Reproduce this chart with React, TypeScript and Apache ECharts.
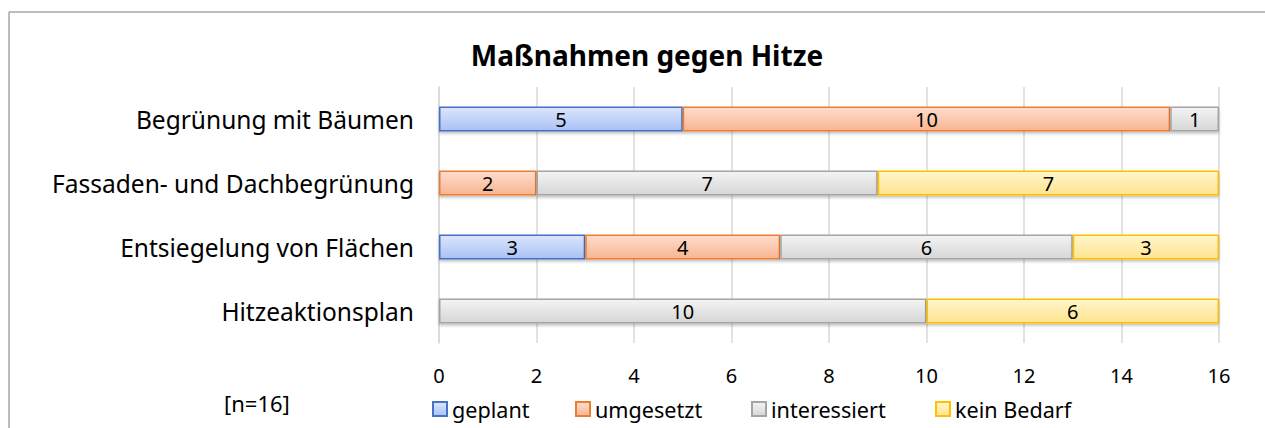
import React, { useEffect, useRef } from "react";
import * as echarts from "echarts";

const categories = [
  "Begrünung mit Bäumen",
  "Fassaden- und Dachbegrünung",
  "Entsiegelung von Flächen",
  "Hitzeaktionsplan",
];
const geplant = [5, null, 3, null];
const umgesetzt = [10, 2, 4, null];
const interessiert = [1, 7, 6, 10];
const keinBedarf = [null, 7, 3, 6];
const seriesNames = ["geplant", "umgesetzt", "interessiert", "kein Bedarf"];
const xTicks = { min: 0, max: 16, interval: 2 };
const titleText = "Maßnahmen gegen Hitze";
const noteText = "[n=16]";

const FONT = "'Noto Sans', sans-serif";

const palettes = [
  { top: "#DCE6FC", bottom: "#A9C1F4", border: "#4472C4" },
  { top: "#FEDDCD", bottom: "#F8B592", border: "#ED7D31" },
  { top: "#F4F4F4", bottom: "#D6D6D6", border: "#A5A5A5" },
  { top: "#FFF6CC", bottom: "#FFE48F", border: "#FFC000" },
];

const legendLefts = [432, 575, 751, 935];

export default function App() {
  const ref = useRef<HTMLDivElement>(null);
  useEffect(() => {
    if (!ref.current) return;
    const chart = echarts.init(ref.current, undefined, { renderer: "svg" });
    const datas = [geplant, umgesetzt, interessiert, keinBedarf];
    const series = datas.map((d, i) => ({
      name: seriesNames[i],
      type: "bar",
      stack: "total",
      barWidth: 25,
      data: d,
      itemStyle: {
        color: new echarts.graphic.LinearGradient(0, 0, 0, 1, [
          { offset: 0, color: palettes[i].top },
          { offset: 1, color: palettes[i].bottom },
        ]),
        borderColor: palettes[i].border,
        borderWidth: 1.5,
        shadowColor: "rgba(0,0,0,0.25)",
        shadowBlur: 3,
        shadowOffsetY: 2,
      },
      label: {
        show: true,
        position: "inside",
        color: "#000",
        fontFamily: FONT,
        fontSize: 20,
      },
      emphasis: { disabled: true },
    }));
    chart.setOption({
      animation: false,
      backgroundColor: "#fff",
      title: {
        text: titleText,
        left: 642,
        textAlign: "center",
        top: 36,
        textStyle: {
          fontFamily: FONT,
          fontSize: 28,
          fontWeight: "bold",
          color: "#000",
        },
      },
      grid: { left: 439, right: 46, top: 87, bottom: 85, containLabel: false },
      xAxis: {
        type: "value",
        min: xTicks.min,
        max: xTicks.max,
        interval: xTicks.interval,
        axisLine: { show: false },
        axisTick: { show: false },
        splitLine: { lineStyle: { color: "#D9D9D9", width: 1.5 } },
        axisLabel: {
          color: "#000",
          fontFamily: FONT,
          fontSize: 20,
          margin: 22,
        },
      },
      yAxis: {
        type: "category",
        data: categories,
        inverse: true,
        axisLine: { show: true, lineStyle: { color: "#D9D9D9", width: 1.5 } },
        axisTick: { show: false },
        axisLabel: {
          color: "#000",
          fontFamily: FONT,
          fontSize: 24.5,
          margin: 25,
        },
      },
      legend: seriesNames.map((n, i) => ({
        data: [n],
        left: legendLefts[i],
        top: 398,
        padding: 0,
        icon: "rect",
        itemWidth: 14,
        itemHeight: 14,
        itemGap: 4,
        selectedMode: false,
        textStyle: {
          color: "#000",
          fontFamily: FONT,
          fontSize: 21.6,
        },
      })),
      graphic: [
        {
          type: "line",
          shape: { x1: 9, y1: 12, x2: 1265, y2: 12 },
          style: { stroke: "#A6A6A6", lineWidth: 1.5 },
        },
        {
          type: "line",
          shape: { x1: 9, y1: 12, x2: 9, y2: 428 },
          style: { stroke: "#A6A6A6", lineWidth: 1.5 },
        },
        {
          type: "text",
          left: 224,
          top: 392,
          style: {
            text: noteText,
            fontFamily: FONT,
            fontSize: 22,
            fill: "#000",
          },
        },
      ],
      series,
    });
    return () => chart.dispose();
  }, []);
  return (
    <div
      ref={ref}
      style={{ position: "absolute", left: 0, top: 0, width: 1265, height: 428 }}
    />
  );
}
